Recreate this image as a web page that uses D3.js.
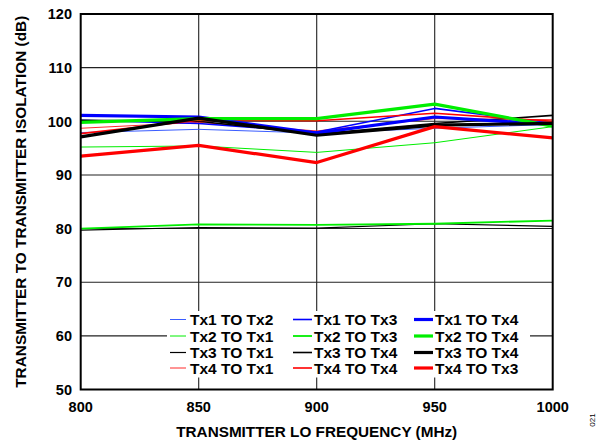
<!DOCTYPE html>
<html>
<head>
<meta charset="utf-8">
<script src="https://cdn.jsdelivr.net/npm/d3@7"></script>
<style>
  body { margin: 0; background: #fff; }
  svg { display: block; font-family: 'Liberation Sans', Arial, sans-serif; }
</style>
</head>
<body>
<div id="chart"></div>
<script>
const freqs = [800, 850, 900, 950, 1000];
const yTicks = [50, 60, 70, 80, 90, 100, 110, 120];

const tx1ToTx2 = [97.9, 98.5, 97.8, 98.7, 99.4];
const tx1ToTx3 = [100.2, 99.6, 98.0, 102.4, 99.6];
const tx1ToTx4 = [101.1, 100.8, 97.8, 100.8, 99.4];
const tx2ToTx1 = [95.2, 95.4, 94.2, 96.0, 99.0];
const tx2ToTx3 = [80.0, 80.8, 80.7, 80.9, 81.5];
const tx2ToTx4 = [99.8, 100.5, 100.5, 103.2, 99.1];
const tx3ToTx1 = [79.7, 80.2, 80.1, 80.9, 80.4];
const tx3ToTx4a = [100.2, 100.0, 97.6, 99.6, 101.1];
const tx3ToTx4b = [97.1, 100.6, 97.4, 99.3, 99.6];
const tx4ToTx1 = [98.7, 99.8, 98.2, 100.5, 100.3];
const tx4ToTx4 = [97.7, 100.2, 100.1, 101.5, 100.0];
const tx4ToTx3 = [93.5, 95.5, 92.3, 99.0, 96.9];

const series = [
  { name: 'Tx1 TO Tx2', values: tx1ToTx2, color: '#3a5cff', w: 1 },
  { name: 'Tx2 TO Tx1', values: tx2ToTx1, color: '#00ee00', w: 1 },
  { name: 'Tx3 TO Tx1', values: tx3ToTx1, color: '#000000', w: 1.2 },
  { name: 'Tx4 TO Tx1', values: tx4ToTx1, color: '#ff2a2a', w: 1 },
  { name: 'Tx1 TO Tx3', values: tx1ToTx3, color: '#0000ff', w: 1.6 },
  { name: 'Tx2 TO Tx3', values: tx2ToTx3, color: '#00ee00', w: 1.8 },
  { name: 'Tx3 TO Tx4', values: tx3ToTx4a, color: '#000000', w: 1.6 },
  { name: 'Tx4 TO Tx4', values: tx4ToTx4, color: '#ff0000', w: 1.6 },
  { name: 'Tx1 TO Tx4', values: tx1ToTx4, color: '#0000ff', w: 3.2 },
  { name: 'Tx2 TO Tx4', values: tx2ToTx4, color: '#00ee00', w: 3.2 },
  { name: 'Tx3 TO Tx4', values: tx3ToTx4b, color: '#000000', w: 3.2 },
  { name: 'Tx4 TO Tx3', values: tx4ToTx3, color: '#ff0000', w: 3.2 }
];

const width = 602;
const height = 442;
const plotLeft = 80.7, plotRight = 552.7, plotTop = 14, plotBottom = 389.5;

const svg = d3.select('#chart')
  .append('svg')
  .attr('width', width)
  .attr('height', height);

const x = d3.scaleLinear().domain([800, 1000]).range([plotLeft, plotRight]);
const y = d3.scaleLinear().domain([50, 120]).range([plotBottom, plotTop]);

// grid
const grid = svg.append('g').attr('stroke', '#222').attr('stroke-width', 1.1);
grid.selectAll('.gx')
  .data(freqs.slice(1, -1))
  .join('line')
  .attr('x1', d => x(d)).attr('x2', d => x(d))
  .attr('y1', plotTop).attr('y2', plotBottom);
grid.selectAll('.gy')
  .data(yTicks.slice(1, -1))
  .join('line')
  .attr('x1', plotLeft).attr('x2', plotRight)
  .attr('y1', d => y(d)).attr('y2', d => y(d));

// lines
const line = d3.line()
  .x((d, i) => x(freqs[i]))
  .y(d => y(d));

svg.append('g')
  .selectAll('path')
  .data(series)
  .join('path')
  .attr('d', d => line(d.values))
  .attr('fill', 'none')
  .attr('stroke', d => d.color)
  .attr('stroke-width', d => d.w)
  .attr('stroke-linejoin', 'round');

// legend box
const lg = svg.append('g');
lg.append('rect')
  .attr('x', 167).attr('y', 311)
  .attr('width', 363).attr('height', 66.5)
  .attr('fill', '#fff');

const colX = [170, 293, 414];
const rowY = [319.5, 336, 352.5, 368];
series.forEach((s, i) => {
  const col = Math.floor(i / 4), row = i % 4;
  const g = lg.append('g').attr('transform', `translate(${colX[col]},${rowY[row]})`);
  g.append('line')
    .attr('x1', 0).attr('x2', col === 0 ? 16 : 19)
    .attr('stroke', s.color)
    .attr('stroke-width', s.w);
  g.append('text')
    .attr('x', col === 0 ? 20 : 21).attr('dy', '0.36em')
    .attr('font-size', 15.5).attr('font-weight', 'bold')
    .text(s.name);
});

// frame
svg.append('rect')
  .attr('x', plotLeft).attr('y', plotTop)
  .attr('width', plotRight - plotLeft).attr('height', plotBottom - plotTop)
  .attr('fill', 'none').attr('stroke', '#000').attr('stroke-width', 2);

// tick labels
svg.append('g')
  .selectAll('text')
  .data(yTicks)
  .join('text')
  .attr('x', 72).attr('y', d => y(d)).attr('dy', '0.36em')
  .attr('text-anchor', 'end')
  .attr('font-size', 14.5).attr('font-weight', 'bold')
  .text(d => d);

svg.append('g')
  .selectAll('text')
  .data(freqs)
  .join('text')
  .attr('x', d => x(d)).attr('y', 407).attr('dy', '0.36em')
  .attr('text-anchor', 'middle')
  .attr('font-size', 14.5).attr('font-weight', 'bold')
  .text(d => d);

// axis titles
svg.append('text')
  .attr('x', (plotLeft + plotRight) / 2).attr('y', 431).attr('dy', '0.36em')
  .attr('text-anchor', 'middle')
  .attr('font-size', 15.3).attr('font-weight', 'bold')
  .text('TRANSMITTER LO FREQUENCY (MHz)');

svg.append('text')
  .attr('transform', `translate(20,${(plotTop + plotBottom) / 2}) rotate(-90)`)
  .attr('dy', '0.36em')
  .attr('text-anchor', 'middle')
  .attr('font-size', 15.4).attr('font-weight', 'bold')
  .text('TRANSMITTER TO TRANSMITTER ISOLATION (dB)');

svg.append('text')
  .attr('transform', 'translate(592,420) rotate(-90)')
  .attr('dy', '0.36em')
  .attr('text-anchor', 'middle')
  .attr('font-size', 8)
  .text('021');
</script>
</body>
</html>
